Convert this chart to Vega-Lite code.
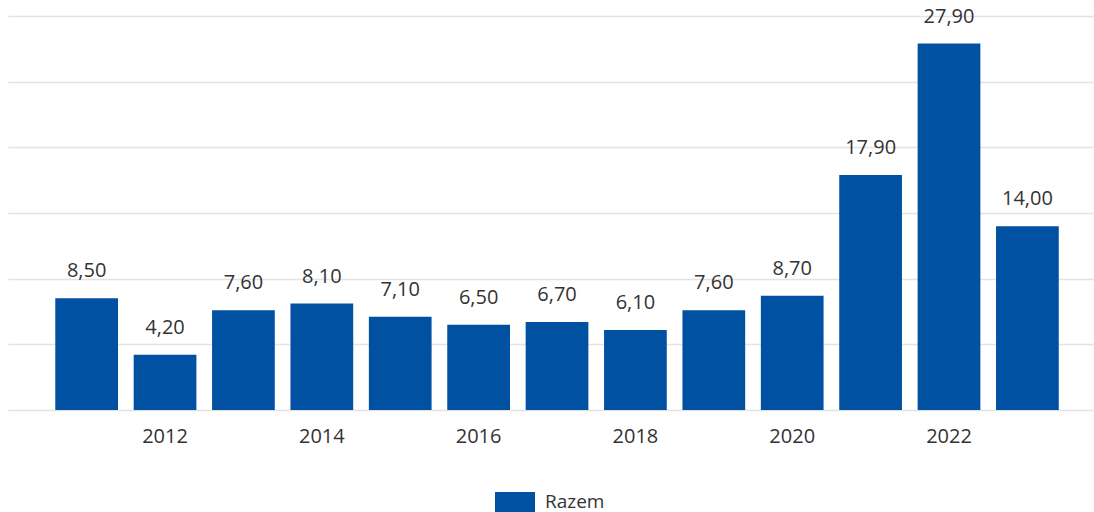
{
  "$schema": "https://vega.github.io/schema/vega-lite/v6.json",
  "width": 1085,
  "height": 394,
  "autosize": {"type": "none"},
  "padding": {"left": 8, "top": 16, "right": 1, "bottom": 102},
  "config": {
    "locale": {"number": {"decimal": ",", "thousands": " ", "grouping": [3], "currency": ["", " zł"]}},
    "view": {"stroke": null},
    "font": "Open Sans"
  },
  "data": {
    "values": [
      {"year": 2011, "value": 8.5, "series": "Razem"},
      {"year": 2012, "value": 4.2, "series": "Razem"},
      {"year": 2013, "value": 7.6, "series": "Razem"},
      {"year": 2014, "value": 8.1, "series": "Razem"},
      {"year": 2015, "value": 7.1, "series": "Razem"},
      {"year": 2016, "value": 6.5, "series": "Razem"},
      {"year": 2017, "value": 6.7, "series": "Razem"},
      {"year": 2018, "value": 6.1, "series": "Razem"},
      {"year": 2019, "value": 7.6, "series": "Razem"},
      {"year": 2020, "value": 8.7, "series": "Razem"},
      {"year": 2021, "value": 17.9, "series": "Razem"},
      {"year": 2022, "value": 27.9, "series": "Razem"},
      {"year": 2023, "value": 14.0, "series": "Razem"}
    ]
  },
  "encoding": {
    "x": {
      "field": "year",
      "type": "ordinal",
      "scale": {"paddingInner": 0.2, "paddingOuter": 0.52, "align": 0.58},
      "axis": {
        "title": null,
        "domain": false,
        "ticks": false,
        "grid": false,
        "labelAngle": 0,
        "labelFontSize": 20,
        "labelColor": "#333333",
        "labelPadding": 16,
        "labelExpr": "toNumber(datum.value) % 2 == 0 ? datum.label : ''"
      }
    },
    "y": {
      "field": "value",
      "type": "quantitative",
      "scale": {"domain": [0, 30], "nice": false},
      "axis": {
        "title": null,
        "labels": false,
        "ticks": false,
        "domain": false,
        "values": [0, 5, 10, 15, 20, 25, 30],
        "grid": true,
        "gridColor": "#e3e3e3",
        "gridWidth": 1.5
      }
    }
  },
  "layer": [
    {
      "mark": {"type": "bar"},
      "encoding": {
        "color": {
          "field": "series",
          "type": "nominal",
          "scale": {"range": ["#0051a2"]},
          "legend": {
            "title": null,
            "orient": "none",
            "legendX": 487,
            "legendY": 466,
            "padding": 0,
            "symbolType": "M-1,-0.5H1V0.5H-1Z",
            "symbolSize": 1600,
            "symbolStrokeWidth": 0,
            "labelFontSize": 19,
            "labelColor": "#333333",
            "labelOffset": 10
          }
        }
      }
    },
    {
      "mark": {"type": "text", "baseline": "alphabetic", "dy": -21, "fontSize": 20, "color": "#333333"},
      "encoding": {
        "text": {"field": "value", "type": "quantitative", "format": ".2f"}
      }
    }
  ]
}
